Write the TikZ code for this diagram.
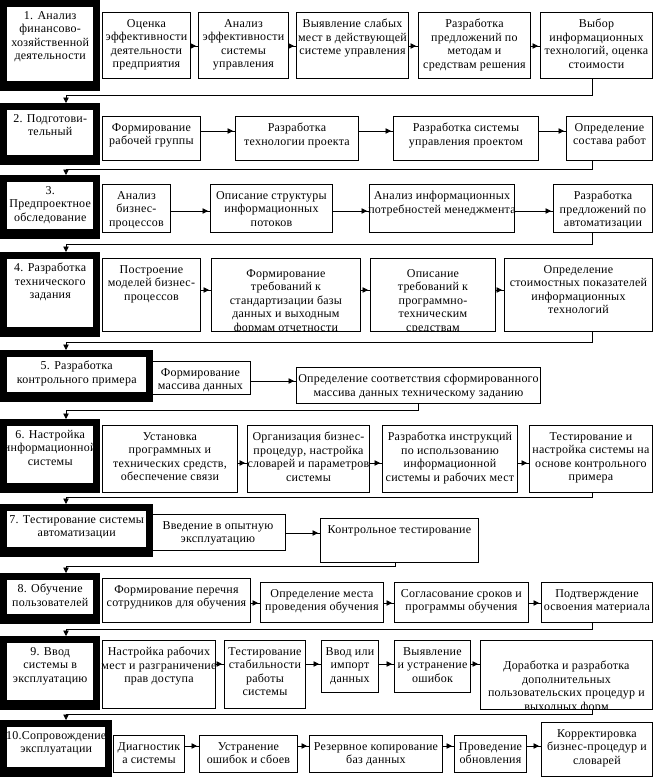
\documentclass[tikz,border=0pt]{standalone}
\usepackage{fontspec}
\setmainfont{Liberation Serif}[LetterSpace=2]
\usetikzlibrary{arrows.meta,decorations.markings,calc}
\tikzset{
  bx/.style={draw, line width=0.9pt, inner sep=0pt, anchor=north west},
  stgout/.style={fill=black, inner sep=0pt, anchor=north west},
  txt/.style={font=\fontsize{12}{13.5}\selectfont, align=center, inner sep=0pt, anchor=north},
  flow/.style={line width=0.8pt, postaction={decorate},
    decoration={markings, mark=at position -2pt with {\arrow{Triangle[length=5.5pt,width=5.5pt]}}}},
  downarr/.style={line width=0.8pt, -{Triangle[length=5.5pt,width=5.5pt]}},
}
% box: name, x1, y1, x2, y2, text
\newcommand\BX[6]{%
  \node[bx, minimum width={(#4-#2)*1pt}, minimum height={(#5-#3)*1pt}] (#1) at (#2,#3) {};
  \node[txt] (#1t) at ($(#1.north)+(0,7)$) {#6};}
% clipped box: name, x1, y1, x2, y2, text offset, text
\newcommand\BXC[7]{%
  \node[bx, minimum width={(#4-#2)*1pt}, minimum height={(#5-#3)*1pt}] (#1) at (#2,#3) {};
  \begin{scope}
  \clip (#1.north west) rectangle (#1.south east);
  \node[txt] (#1t) at ($(#1.north)+(0,#6)$) {#7};
  \end{scope}}
% stage box
\newcommand\SB[6]{%
  \node[stgout, minimum width={(#4-#2)*1pt}, minimum height={(#5-#3)*1pt}] (#1) at (#2,#3) {};
  \fill[white] ($(#1.north west)+(7,7)$) rectangle ($(#1.south east)+(-7,-10)$);
  \node[txt] (#1t) at ($(#1.north)+(0,11)$) {#6};}
\begin{document}
\begin{tikzpicture}[x=1pt,y=-1pt]
\useasboundingbox (0,0) rectangle (654,777);
% Row 1
\SB{S1}{0}{0}{100}{91}{1. Анализ\\финансово-\\хозяйственной\\деятельности}
\BX{B1a}{102}{12}{190}{78}{Оценка\\эффективности\\деятельности\\предприятия}
\BX{B1b}{198}{12}{288}{78}{Анализ\\эффективности\\системы\\управления}
\BX{B1c}{296}{12}{408}{78}{Выявление слабых\\мест в действующей\\системе управления}
\BX{B1d}{418}{12}{530}{78}{Разработка\\предложений по\\методам и\\средствам решения}
\BX{B1e}{540}{12}{652}{78}{Выбор\\информационных\\технологий, оценка\\стоимости}
\coordinate (r1) at (0,46);
\draw[flow] (B1a.east |- r1) -- (B1b.west |- r1);
\draw[flow] (B1b.east |- r1) -- (B1c.west |- r1);
\draw[flow] (B1c.east |- r1) -- (B1d.west |- r1);
\draw[flow] (B1d.east |- r1) -- (B1e.west |- r1);
% Row 2
\SB{S2}{0}{103}{100}{165}{2. Подготови-\\тельный}
\BX{B2a}{102}{116}{200}{160}{Формирование\\рабочей группы}
\BX{B2b}{235}{116}{358}{160}{Разработка\\технологии проекта}
\BX{B2c}{393}{116}{538}{160}{Разработка системы\\управления проектом}
\BX{B2d}{566}{116}{652}{160}{Определение\\состава работ}
\coordinate (r2) at (0,131);
\draw[flow] (B2a.east |- r2) -- (B2b.west |- r2);
\draw[flow] (B2b.east |- r2) -- (B2c.west |- r2);
\draw[flow] (B2c.east |- r2) -- (B2d.west |- r2);
% Row 3
\SB{S3}{0}{175}{100}{239}{3.\\Предпроектное\\обследование}
\BX{B3a}{102}{184}{170}{232}{Анализ\\бизнес-\\процессов}
\BX{B3b}{210}{184}{332}{232}{Описание структуры\\информационных\\потоков}
\BX{B3c}{369}{184}{514}{232}{Анализ информационных\\потребностей менеджмента}
\BX{B3d}{553}{184}{652}{232}{Разработка\\предложений по\\автоматизации}
\coordinate (r3) at (0,211);
\draw[flow] (B3a.east |- r3) -- (B3b.west |- r3);
\draw[flow] (B3b.east |- r3) -- (B3c.west |- r3);
\draw[flow] (B3c.east |- r3) -- (B3d.west |- r3);
% Row 4
\SB{S4}{0}{252}{100}{337}{4. Разработка\\технического\\задания}
\BX{B4a}{102}{258}{200}{331}{Построение\\моделей бизнес-\\процессов}
\BXC{B4b}{211}{258}{360}{331}{11}{Формирование\\требований к\\стандартизации базы\\данных и выходным\\формам отчетности}
\BXC{B4c}{370}{258}{495}{331}{11}{Описание\\требований к\\программно-\\техническим\\средствам}
\BX{B4d}{504}{258}{652}{331}{Определение\\стоимостных показателей\\информационных\\технологий}
\coordinate (r4) at (0,290);
\draw[flow] (B4a.east |- r4) -- (B4b.west |- r4);
\draw[flow] (B4b.east |- r4) -- (B4c.west |- r4);
\draw[flow] (B4c.east |- r4) -- (B4d.west |- r4);
% Row 5
\SB{S5}{0}{350}{153}{402}{5. Разработка\\контрольного примера}
\BX{B5a}{150}{361}{250}{394}{Формирование\\массива данных}
\BX{B5b}{296}{367}{540}{403}{Определение соответствия сформированного\\массива данных техническому заданию}
\coordinate (r5) at (0,381);
\draw[flow] (B5a.east |- r5) -- (B5b.west |- r5);
% Row 6
\SB{S6}{0}{419}{100}{493}{6. Настройка\\информационной\\системы}
\BX{B6a}{102}{425}{237}{492}{Установка\\программных и\\технических средств,\\обеспечение связи}
\BX{B6b}{247}{425}{369}{492}{Организация бизнес-\\процедур, настройка\\словарей и параметров\\системы}
\BX{B6c}{382}{425}{517}{492}{Разработка инструкций\\по использованию\\информационной\\системы и рабочих мест}
\BX{B6d}{529}{425}{652}{492}{Тестирование и\\настройка системы на\\основе контрольного\\примера}
\coordinate (r6) at (0,463);
\draw[flow] (B6a.east |- r6) -- (B6b.west |- r6);
\draw[flow] (B6b.east |- r6) -- (B6c.west |- r6);
\draw[flow] (B6c.east |- r6) -- (B6d.west |- r6);
% Row 7
\SB{S7}{0}{504}{153}{557}{7. Тестирование системы\\автоматизации}
\BX{B7a}{150}{514}{285}{550}{Введение в опытную\\эксплуатацию}
\BX{B7b}{320}{518}{478}{562}{Контрольное тестирование}
\coordinate (r7) at (0,533);
\draw[flow] (B7a.east |- r7) -- (B7b.west |- r7);
% Row 8
\SB{S8}{0}{573}{100}{624}{8. Обучение\\пользователей}
\BX{B8a}{102}{578}{250}{622}{Формирование перечня\\сотрудников для обучения}
\BX{B8b}{260}{582}{383}{622}{Определение места\\проведения обучения}
\BX{B8c}{394}{582}{528}{622}{Согласование сроков и\\программы обучения}
\BX{B8d}{541}{582}{652}{622}{Подтверждение\\освоения материала}
\coordinate (r8) at (0,603);
\draw[flow] (B8a.east |- r8) -- (B8b.west |- r8);
\draw[flow] (B8b.east |- r8) -- (B8c.west |- r8);
\draw[flow] (B8c.east |- r8) -- (B8d.west |- r8);
% Row 9
\SB{S9}{0}{636}{100}{710}{9. Ввод\\системы в\\эксплуатацию}
\BX{B9a}{102}{640}{215}{708}{Настройка рабочих\\мест и разграничение\\прав доступа}
\BX{B9b}{224}{640}{305}{708}{Тестирование\\стабильности\\работы\\системы}
\BX{B9c}{321}{640}{378}{692}{Ввод или\\импорт\\данных}
\BX{B9d}{394}{640}{470}{692}{Выявление\\и устранение\\ошибок}
\BXC{B9e}{480}{640}{652}{709}{21}{Доработка и разработка\\дополнительных\\пользовательских процедур и\\выходных форм}
\coordinate (r9) at (0,664);
\draw[flow] (B9a.east |- r9) -- (B9b.west |- r9);
\draw[flow] (B9b.east |- r9) -- (B9c.west |- r9);
\draw[flow] (B9c.east |- r9) -- (B9d.west |- r9);
\draw[flow] (B9d.east |- r9) -- (B9e.west |- r9);
% Row 10
\SB{S10}{0}{720}{112}{777}{10.Сопровождение\\эксплуатации}
\BX{B10a}{113}{735}{184}{772}{Диагностик\\а системы}
\BX{B10b}{199}{735}{297}{772}{Устранение\\ошибок и сбоев}
\BX{B10c}{309}{735}{442}{772}{Резервное копирование\\баз данных}
\BX{B10d}{454}{735}{526}{772}{Проведение\\обновления}
\BX{B10e}{541}{722}{652}{776}{Корректировка\\бизнес-процедур и\\словарей}
\coordinate (r10) at (0,746);
\draw[flow] (B10a.east |- r10) -- (B10b.west |- r10);
\draw[flow] (B10b.east |- r10) -- (B10c.west |- r10);
\draw[flow] (B10c.east |- r10) -- (B10d.west |- r10);
\draw[flow] (B10d.east |- r10) -- (B10e.west |- r10);
% Connectors between rows
\coordinate (c1) at (592,95);  \coordinate (k1) at (66,95);
\draw[downarr] (B1e.south -| c1) -- (c1) -- (k1) -- (k1 |- S2.north);
\coordinate (c2) at (592,169); \coordinate (k2) at (66,169);
\draw[downarr] (B2d.south -| c2) -- (c2) -- (k2) -- (k2 |- S3.north);
\coordinate (c3) at (592,244); \coordinate (k3) at (66,244);
\draw[downarr] (B3d.south -| c3) -- (c3) -- (k3) -- (k3 |- S4.north);
\coordinate (c4) at (592,342); \coordinate (k4) at (66,342);
\draw[downarr] (B4d.south -| c4) -- (c4) -- (k4) -- (k4 |- S5.north);
\coordinate (c5) at (418,410); \coordinate (k5) at (66,410);
\draw[downarr] (B5b.south -| c5) -- (c5) -- (k5) -- (k5 |- S6.north);
\coordinate (c6) at (592,497); \coordinate (k6) at (66,497);
\draw[downarr] (B6d.south -| c6) -- (c6) -- (k6) -- (k6 |- S7.north);
\coordinate (c7) at (395,566); \coordinate (k7) at (66,566);
\draw[downarr] (B7b.south -| c7) -- (c7) -- (k7) -- (k7 |- S8.north);
\coordinate (c8) at (592,629); \coordinate (k8) at (66,629);
\draw[downarr] (B8d.south -| c8) -- (c8) -- (k8) -- (k8 |- S9.north);
\coordinate (c9) at (592,714); \coordinate (k9) at (66,714);
\draw[downarr] (B9e.south -| c9) -- (c9) -- (k9) -- (k9 |- S10.north);
\end{tikzpicture}
\end{document}
